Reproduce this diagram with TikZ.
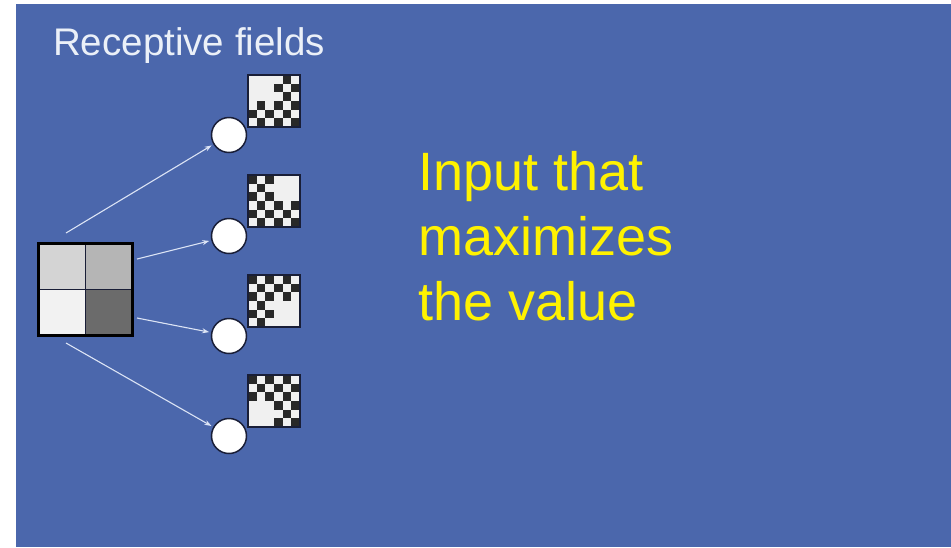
\documentclass[tikz,border=0pt]{standalone}
\usepackage{fontspec}
\setmainfont{Liberation Sans}
\usetikzlibrary{arrows.meta}
\definecolor{bg}{RGB}{75,103,172}
\definecolor{chkdark}{RGB}{40,40,40}
\definecolor{chklight}{RGB}{240,240,240}
\definecolor{rimdark}{RGB}{25,30,55}
\definecolor{arrowc}{RGB}{220,228,245}
\definecolor{titlec}{RGB}{235,240,248}
\definecolor{qtl}{RGB}{212,212,212}
\definecolor{qtr}{RGB}{181,181,181}
\definecolor{qbl}{RGB}{242,242,242}
\definecolor{qbr}{RGB}{107,107,107}
\tikzset{
 patch/.style={draw=rimdark, line width=1.8pt, minimum size=52pt, inner sep=0pt, fill=none},
 unit/.style={circle, draw=rimdark, line width=1.5pt, fill=white, minimum size=35pt, inner sep=0pt},
 link/.style={draw=arrowc, line width=1.1pt, -{Stealth[length=7pt,width=5pt]}, shorten >=2pt},
 bigtext/.style={text=yellow, font=\fontsize{54}{64}\selectfont, anchor=base west, inner sep=0pt},
 titletext/.style={text=titlec, font=\fontsize{38.5}{45}\selectfont, anchor=base west, inner sep=0pt},
 inbox/.style={draw=black, line width=3pt, minimum width=94pt, minimum height=92pt, inner sep=0pt},
}
\newcommand\drawchecker[3]{%
 \begin{scope}[shift={(#1,#2)}]
  \fill[chklight] (0,0) rectangle (52,52);
  \foreach \rr/\oo in {0/0,1/1,2/0,3/1,4/0,5/1}{
   \foreach \kk in {0,2,4}{
    \fill[chkdark] ({(\kk+\oo)*52/6},{\rr*52/6}) rectangle ++({52/6},{52/6});
   }}
  \fill[chklight] (#3) rectangle ++(26,26);
 \end{scope}}
\begin{document}
\begin{tikzpicture}[x=1pt,y=-1pt]
\useasboundingbox (0,0) rectangle (951,547);
\fill[white] (0,0) rectangle (951,547);
\fill[bg] (16,4) rectangle (951,547);

\node[titletext] (title) at (53,55) {Receptive fields};

% input patch
\fill[qtl] (38,243) rectangle (85,289);
\fill[qtr] (85,243) rectangle (132,289);
\fill[qbl] (38,289) rectangle (85,335);
\fill[qbr] (85,289) rectangle (132,335);
\draw[rimdark, line width=0.9pt] (85,243) -- (85,335) (38,289) -- (132,289);
\node[inbox] (inp) at (85,289) {};

% receptive field patterns
\drawchecker{248}{75}{0,0}
\drawchecker{248}{175}{26,0}
\drawchecker{248}{275}{26,26}
\drawchecker{248}{375}{0,26}
\node[patch] (p1) at (274,101) {};
\node[patch] (p2) at (274,201) {};
\node[patch] (p3) at (274,301) {};
\node[patch] (p4) at (274,401) {};

% units
\node[unit] (c1) at (229,135) {};
\node[unit] (c2) at (229,236) {};
\node[unit] (c3) at (229,336) {};
\node[unit] (c4) at (229,436) {};

% connectors
\coordinate (s1) at (66,233);
\coordinate (s2) at (137,259);
\coordinate (s3) at (137,318);
\coordinate (s4) at (66,343);
\draw[link] (s1) -- (c1);
\draw[link] (s2) -- (c2);
\draw[link] (s3) -- (c3);
\draw[link] (s4) -- (c4);

\node[bigtext] (t1) at (418,190) {Input that};
\node[bigtext] (t2) at (418,255) {maximizes};
\node[bigtext] (t3) at (418,320) {the value};
\end{tikzpicture}
\end{document}
